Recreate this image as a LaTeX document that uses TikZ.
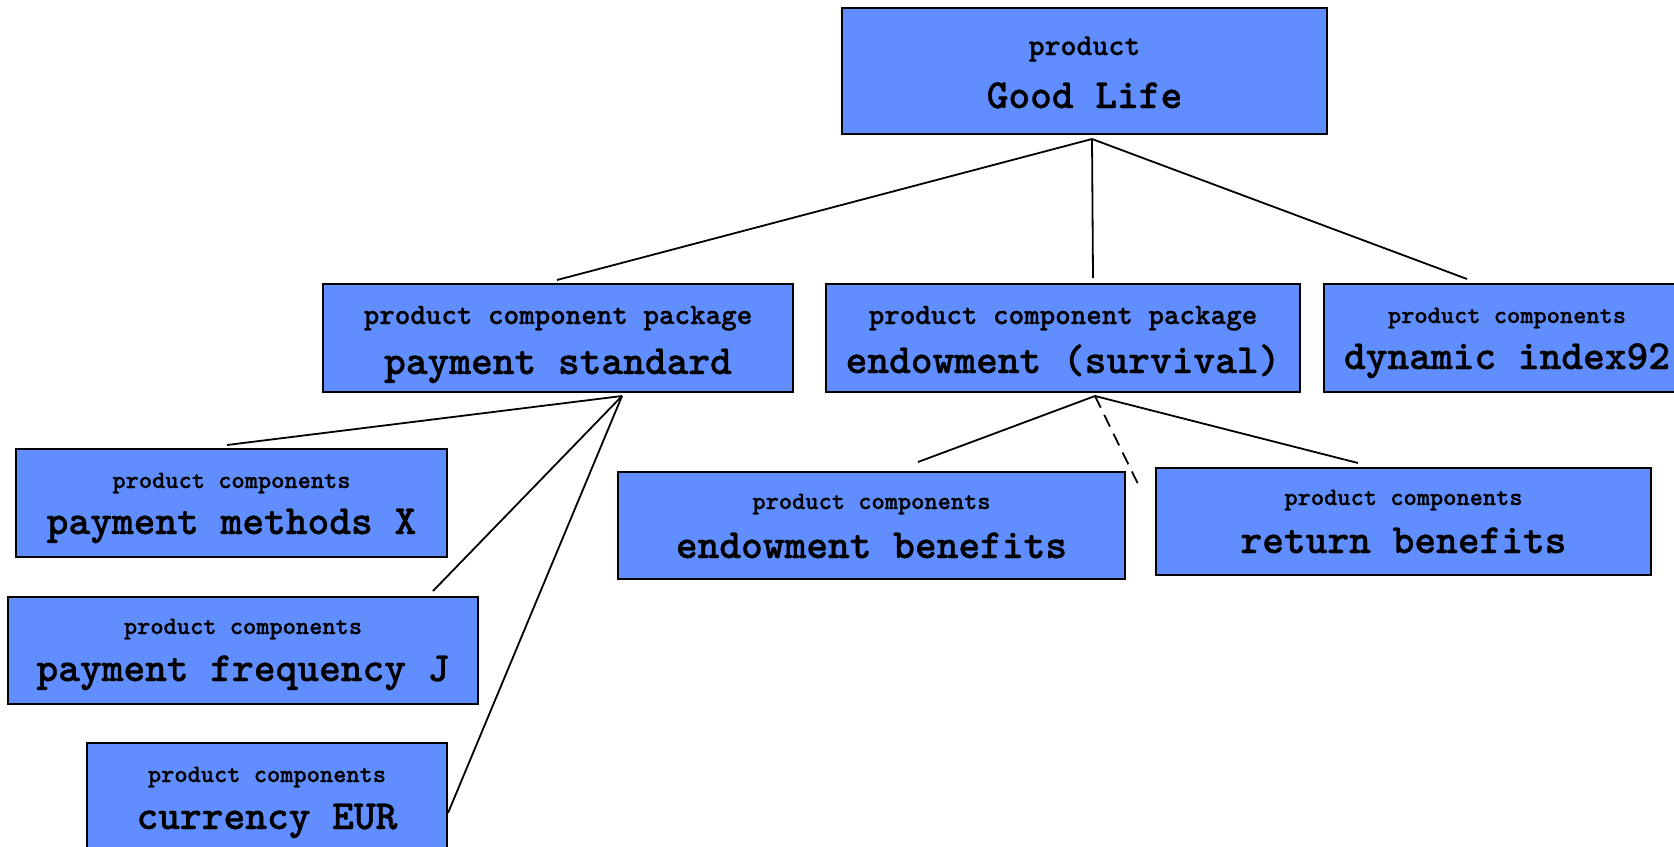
\documentclass[tikz,border=0pt]{standalone}
\usepackage{fontspec}
\usetikzlibrary{calc}
\definecolor{boxblue}{RGB}{96,142,255}
\newfontfamily\boxfontbase{Latin Modern Mono Light}[FakeBold=0.8]
\newcommand{\boxfont}{\boxfontbase\bfseries}

\begin{document}
\begin{tikzpicture}[x=0.5pt,y=-0.5pt,
  box/.style={draw=black, line width=1pt, fill=boxblue, inner sep=0pt},
  kindtxt/.style={anchor=base, inner sep=0pt, font=\boxfont\fontsize{12.6}{14}\selectfont},
  kindpk/.style={kindtxt, font=\boxfont\fontsize{14.8}{17}\selectfont},
  kindroot/.style={kindtxt, font=\boxfont\fontsize{15.2}{17}\selectfont},
  titletxt/.style={anchor=base, inner sep=0pt, font=\boxfont\fontsize{20.7}{24}\selectfont},
  link/.style={line width=0.9pt},
  optlink/.style={link, dash pattern=on 6.5pt off 4pt}]

\useasboundingbox (0,0) rectangle (1674,846);
\clip (0,0) rectangle (1674,846);

% product
\node[box, minimum width=242.5pt, minimum height=63pt] (root) at (1084.5,71) {};
\node[kindroot] (root-k) at ([yshift=-24pt]root.north) {product};
\node[titletxt] (root-n) at ([yshift=-50.5pt]root.north) {Good Life};

% component packages and components, first level
\node[box, minimum width=235pt, minimum height=54pt] (paystd) at (558,338) {};
\node[kindpk] (paystd-k) at ([yshift=-20.5pt]paystd.north) {product component package};
\node[titletxt] (paystd-n) at ([yshift=-45.5pt]paystd.north) {payment standard};

\node[box, minimum width=237pt, minimum height=54pt] (endsurv) at (1063,338) {};
\node[kindpk] (endsurv-k) at ([yshift=-20.5pt]endsurv.north) {product component package};
\node[titletxt] (endsurv-n) at ([yshift=-45pt]endsurv.north) {endowment (survival)};

\node[box, minimum width=183pt, minimum height=54pt] (dyn) at (1507,338) {};
\node[kindtxt] (dyn-k) at ([yshift=-20pt]dyn.north) {product components};
\node[titletxt] (dyn-n) at ([yshift=-43pt]dyn.north) {dynamic index92};

% components of the payment package
\node[box, minimum width=215.5pt, minimum height=54pt] (paymeth) at (231.5,503) {};
\node[kindtxt] (paymeth-k) at ([yshift=-20pt]paymeth.north) {product components};
\node[titletxt] (paymeth-n) at ([yshift=-43pt]paymeth.north) {payment methods X};

\node[box, minimum width=235pt, minimum height=53.5pt] (payfreq) at (243,650.5) {};
\node[kindtxt] (payfreq-k) at ([yshift=-19pt]payfreq.north) {product components};
\node[titletxt] (payfreq-n) at ([yshift=-42.5pt]payfreq.north) {payment frequency J};

\node[box, minimum width=180pt, minimum height=54pt] (currency) at (267,797) {};
\node[kindtxt] (currency-k) at ([yshift=-20pt]currency.north) {product components};
\node[titletxt] (currency-n) at ([yshift=-43.5pt]currency.north) {currency EUR};

% components of the endowment package
\node[box, minimum width=253.5pt, minimum height=53.5pt] (endben) at (871.5,525.5) {};
\node[kindtxt] (endben-k) at ([yshift=-19pt]endben.north) {product components};
\node[titletxt] (endben-n) at ([yshift=-43.5pt]endben.north) {endowment benefits};

\node[box, minimum width=247.5pt, minimum height=53.5pt] (return) at (1403.5,521.5) {};
\node[kindtxt] (return-k) at ([yshift=-19pt]return.north) {product components};
\node[titletxt] (return-n) at ([yshift=-43pt]return.north) {return benefits};

% junction points below the parents
\coordinate (root-j) at ([shift={(7.5,4)}]root.south);
\coordinate (paystd-j) at ([shift={(64,3)}]paystd.south);
\coordinate (endsurv-j) at ([shift={(32,3)}]endsurv.south);
\coordinate (endsurv-opt) at ([shift={(43,88)}]endsurv-j);

% connectors
\draw[link] (root-j) -- ([shift={(-1,-3)}]paystd.north);
\draw[link] (root-j) -- ([shift={(30,-5)}]endsurv.north);
\draw[link] (root-j) -- ([shift={(-40,-4)}]dyn.north);

\draw[link] (paystd-j) -- ([shift={(-4.5,-3)}]paymeth.north);
\draw[link] (paystd-j) -- ([shift={(-46,-5)}]payfreq.north east);
\draw[link] (paystd-j) -- ([shift={(0,16)}]currency.east);

\draw[link] (endsurv-j) -- ([shift={(46.5,-9)}]endben.north);
\draw[link] (endsurv-j) -- ([shift={(-45.5,-4)}]return.north);
\draw[optlink] (endsurv-j) -- (endsurv-opt);
\end{tikzpicture}
\end{document}
